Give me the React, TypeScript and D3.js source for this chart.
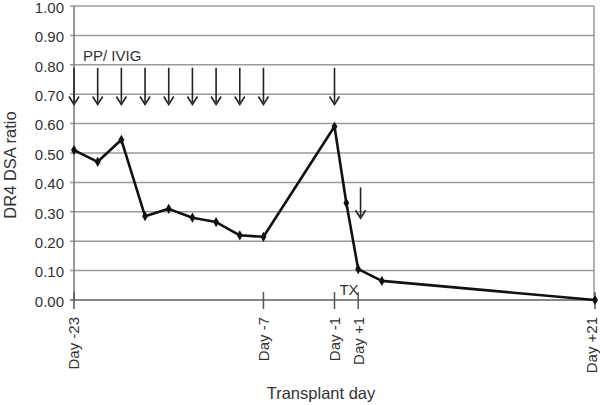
import React from "react";
import * as d3 from "d3";

const days = [-23, -21, -19, -17, -15, -13, -11, -9, -7, -1, 0, 1, 3, 21];
const ratios = [0.51, 0.47, 0.545, 0.285, 0.31, 0.28, 0.265, 0.22, 0.215, 0.59, 0.33, 0.105, 0.065, 0.0];
const tickDays = [-23, -7, -1, 1, 21];
const tickLabels = ["Day -23", "Day -7", "Day -1", "Day +1", "Day +21"];
const yTicks = [0, 0.1, 0.2, 0.3, 0.4, 0.5, 0.6, 0.7, 0.8, 0.9, 1.0];
const treatArrowDays = [-23, -21, -19, -17, -15, -13, -11, -9, -7, -1];
const treatArrowTop = 0.79;
const treatArrowBottom = 0.665;
const txArrowDay = 1.2;
const txArrowTop = 0.383;
const txArrowBottom = 0.278;

export default function App() {
  const W = 600, H = 405;
  const x = d3.scaleLinear().domain([-23, 21]).range([74, 595]);
  const y = d3.scaleLinear().domain([0, 1]).range([300, 6]);
  const line = d3.line<number>().x((_, i) => x(days[i])).y((d) => y(d));
  const txt = "#333";
  const font = "Liberation Sans, Arial, sans-serif";
  const right = 594;

  const arrow = (xd: number, top: number, bot: number, k: string) => {
    const px = x(xd), y0 = y(top), y1 = y(bot);
    return (
      <g key={k}>
        <line x1={px} x2={px} y1={y0} y2={y1 - 2} stroke="#222" strokeWidth={1.6} />
        <path d={`M${px - 5},${y1 - 8} L${px},${y1} L${px + 5},${y1 - 8}`} fill="none" stroke="#222" strokeWidth={1.6} />
      </g>
    );
  };

  return (
    <svg width={W} height={H} style={{ position: "absolute", left: 0, top: 0, background: "#fff" }} fontFamily={font}>
      {yTicks.map((t) => (
        <g key={t}>
          <line x1={70} x2={right} y1={y(t)} y2={y(t)} stroke="#9a9a9a" strokeWidth={1.5} />
          <text x={64} y={y(t)} dy="0.45em" textAnchor="end" fontSize={15} fill={txt}>{t.toFixed(2)}</text>
        </g>
      ))}
      <line x1={right} x2={right} y1={y(1)} y2={y(0)} stroke="#9a9a9a" strokeWidth={1.5} />
      <line x1={x(-23)} x2={x(-23)} y1={y(1)} y2={y(0)} stroke="#777" strokeWidth={1.5} />
      <line x1={70} x2={right} y1={y(0)} y2={y(0)} stroke="#777" strokeWidth={1.5} />
      {tickDays.map((d, i) => (
        <g key={d}>
          <line x1={x(d)} x2={x(d)} y1={y(0) - 8} y2={y(0) + 9} stroke="#555" strokeWidth={1.5} />
          <text transform={`translate(${Math.min(x(d), 592)},${y(0) + 17}) rotate(-90)`} dy="0.36em" textAnchor="end" fontSize={15} fill={txt}>{tickLabels[i]}</text>
        </g>
      ))}
      {treatArrowDays.map((d, i) => arrow(d, treatArrowTop, treatArrowBottom, "a" + i))}
      {arrow(txArrowDay, txArrowTop, txArrowBottom, "tx")}
      <path d={line(ratios) || ""} fill="none" stroke="#111" strokeWidth={2.6} strokeLinejoin="round" />
      {ratios.map((r, i) => (
        <path key={i} d={d3.symbol(d3.symbolDiamond, 30)() || ""} transform={`translate(${x(days[i])},${y(r)})`} fill="#111" />
      ))}
      <text x={83} y={61} fontSize={15} fill={txt}>PP/ IVIG</text>
      <text x={349} y={295} textAnchor="middle" fontSize={15} fill={txt}>TX</text>
      <text transform={`translate(16,165) rotate(-90)`} textAnchor="middle" fontSize={16.5} fill={txt}>DR4 DSA ratio</text>
      <text x={321} y={399} textAnchor="middle" fontSize={16.5} fill={txt}>Transplant day</text>
    </svg>
  );
}
